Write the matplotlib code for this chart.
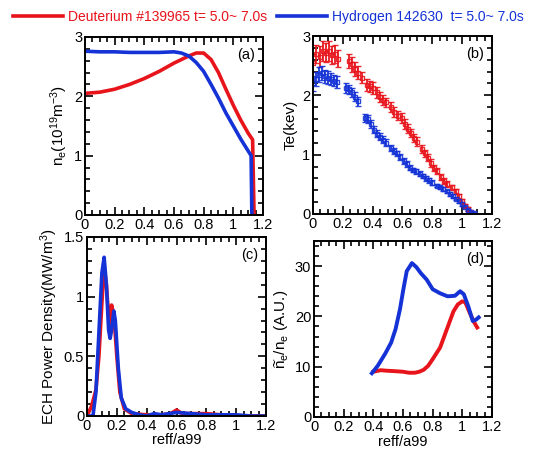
import numpy as np
import matplotlib
matplotlib.use("Agg")
import matplotlib.pyplot as plt
from matplotlib.ticker import MultipleLocator

plt.rcParams['font.family'] = ['Liberation Sans', 'DejaVu Sans']
plt.rcParams['font.size'] = 10
plt.rcParams['mathtext.fontset'] = 'custom'
plt.rcParams['mathtext.rm'] = 'Liberation Sans'
plt.rcParams['mathtext.it'] = 'Liberation Sans'

RED = '#e8141b'
BLUE = '#1432d6'

''' (a) density profiles
'''
ne_d_x = [0.0, 0.1, 0.2, 0.3, 0.4, 0.5, 0.6, 0.7, 0.75, 0.8, 0.85, 0.9, 0.95, 1.0, 1.05, 1.1, 1.13, 1.14]
ne_d_y = [2.05, 2.07, 2.12, 2.2, 2.3, 2.42, 2.56, 2.68, 2.73, 2.73, 2.62, 2.4, 2.12, 1.85, 1.6, 1.38, 1.27, 0.0]
ne_h_x = [0.0, 0.1, 0.2, 0.3, 0.4, 0.5, 0.6, 0.65, 0.7, 0.75, 0.8, 0.85, 0.9, 0.95, 1.0, 1.05, 1.1, 1.12, 1.125]
ne_h_y = [2.76, 2.75, 2.75, 2.74, 2.74, 2.74, 2.75, 2.73, 2.68, 2.57, 2.42, 2.2, 1.97, 1.72, 1.5, 1.28, 1.08, 1.0, 0.0]

''' (b) Te with error bars
'''
te_d_x = [0.0, 0.02, 0.05, 0.07, 0.09, 0.11, 0.13, 0.15, 0.17, 0.24, 0.26, 0.28, 0.30, 0.33, 0.36, 0.38,
          0.40, 0.43, 0.45, 0.47, 0.49, 0.52, 0.54, 0.57, 0.60, 0.62, 0.64, 0.66, 0.68, 0.70, 0.73, 0.75,
          0.77, 0.79, 0.81, 0.83, 0.86, 0.88, 0.90, 0.93, 0.96, 0.98, 1.00, 1.02, 1.04, 1.06]
te_d_y = [2.55, 2.70, 2.65, 2.75, 2.72, 2.75, 2.68, 2.70, 2.62, 2.58, 2.52, 2.45, 2.38, 2.30, 2.18, 2.15,
          2.12, 2.05, 1.97, 1.92, 1.88, 1.80, 1.72, 1.66, 1.62, 1.52, 1.44, 1.36, 1.28, 1.22, 1.10, 1.02,
          0.95, 0.86, 0.78, 0.72, 0.62, 0.55, 0.50, 0.45, 0.38, 0.30, 0.22, 0.14, 0.08, 0.03]
te_d_err = [0.15, 0.15, 0.18, 0.17, 0.16, 0.17, 0.15, 0.15, 0.14, 0.12, 0.12, 0.12, 0.11, 0.10, 0.10, 0.10,
            0.10, 0.09, 0.09, 0.08, 0.08, 0.08, 0.08, 0.08, 0.08, 0.08, 0.07, 0.07, 0.07, 0.07, 0.07, 0.06,
            0.06, 0.06, 0.05, 0.05, 0.05, 0.05, 0.05, 0.04, 0.04, 0.04, 0.04, 0.03, 0.03, 0.02]
te_h_x = [0.0, 0.02, 0.04, 0.06, 0.08, 0.10, 0.12, 0.14, 0.16, 0.22, 0.24, 0.26, 0.28, 0.30, 0.35, 0.37,
          0.39, 0.41, 0.43, 0.45, 0.47, 0.49, 0.52, 0.54, 0.56, 0.58, 0.61, 0.63, 0.65, 0.67, 0.69, 0.72,
          0.74, 0.76, 0.78, 0.80, 0.83, 0.85, 0.87, 0.90, 0.92, 0.94, 0.96, 0.98, 1.00, 1.02, 1.04, 1.06, 1.08]
te_h_y = [2.20, 2.28, 2.35, 2.38, 2.32, 2.30, 2.28, 2.25, 2.22, 2.12, 2.10, 2.05, 1.98, 1.90, 1.62, 1.60,
          1.52, 1.42, 1.35, 1.30, 1.25, 1.20, 1.12, 1.06, 1.02, 0.96, 0.90, 0.85, 0.78, 0.74, 0.72, 0.68,
          0.64, 0.60, 0.57, 0.53, 0.48, 0.45, 0.42, 0.38, 0.34, 0.30, 0.26, 0.22, 0.17, 0.12, 0.07, 0.03, 0.01]
te_h_err = [0.12, 0.12, 0.12, 0.12, 0.11, 0.11, 0.10, 0.10, 0.10, 0.08, 0.08, 0.08, 0.08, 0.08, 0.07, 0.07,
            0.07, 0.06, 0.06, 0.06, 0.06, 0.06, 0.05, 0.05, 0.05, 0.05, 0.05, 0.05, 0.04, 0.04, 0.04, 0.04,
            0.04, 0.04, 0.04, 0.04, 0.03, 0.03, 0.03, 0.03, 0.03, 0.03, 0.03, 0.03, 0.03, 0.02, 0.02, 0.02, 0.02]

''' (c) ECH power density
'''
ech_d_x = [0.0, 0.03, 0.06, 0.08, 0.10, 0.115, 0.13, 0.15, 0.165, 0.18, 0.20, 0.22, 0.25, 0.30, 0.40, 0.50,
           0.56, 0.60, 0.64, 0.70, 0.80, 0.90, 1.0, 1.1, 1.2]
ech_d_y = [0.0, 0.08, 0.22, 0.5, 0.95, 1.25, 1.1, 0.75, 0.93, 0.85, 0.5, 0.2, 0.06, 0.02, 0.01, 0.01,
           0.02, 0.05, 0.02, 0.02, 0.02, 0.01, 0.0, 0.0, 0.0]
ech_h_x = [0.0, 0.04, 0.06, 0.08, 0.10, 0.115, 0.13, 0.145, 0.155, 0.165, 0.18, 0.19, 0.21, 0.23, 0.26, 0.30,
           0.35, 0.40, 0.45, 0.50, 0.60, 0.70, 0.80, 0.90, 1.0, 1.1, 1.2]
ech_h_y = [0.0, 0.0, 0.2, 0.7, 1.2, 1.33, 1.1, 0.72, 0.65, 0.72, 0.88, 0.8, 0.4, 0.15, 0.06, 0.03,
           0.01, 0.0, 0.02, 0.01, 0.03, 0.02, 0.01, 0.01, 0.01, 0.0, 0.0]

''' (d) density fluctuation
'''
fl_d_x = [0.40, 0.45, 0.49, 0.55, 0.60, 0.64, 0.68, 0.71, 0.74, 0.77, 0.80, 0.85, 0.90, 0.94, 0.97, 1.0, 1.02, 1.05, 1.08, 1.10]
fl_d_y = [9.0, 9.3, 9.2, 9.1, 9.0, 8.8, 8.8, 9.0, 9.4, 10.2, 11.5, 13.8, 17.8, 21.0, 22.4, 23.0, 22.8, 20.7, 18.8, 17.8]
fl_h_x = [0.39, 0.43, 0.48, 0.52, 0.55, 0.58, 0.60, 0.625, 0.66, 0.69, 0.72, 0.76, 0.80, 0.85, 0.9, 0.95,
          0.985, 1.01, 1.04, 1.07, 1.09, 1.11]
fl_h_y = [8.7, 10.2, 12.6, 14.8, 17.5, 21.5, 25.0, 29.0, 30.6, 29.8, 28.6, 27.3, 25.4, 24.6, 24.0, 24.1,
          25.0, 24.4, 22.0, 19.1, 19.3, 19.8]

xticks = [0, 0.2, 0.4, 0.6, 0.8, 1.0, 1.2]
xticklabels = ['0', '0.2', '0.4', '0.6', '0.8', '1', '1.2']

fig = plt.figure(figsize=(5.43, 4.49), dpi=100)
ax_a = fig.add_axes([0.1565, 0.5212, 0.3278, 0.3964])
ax_b = fig.add_axes([0.5764, 0.5234, 0.3297, 0.3964])
ax_c = fig.add_axes([0.1602, 0.0735, 0.3297, 0.3987])
ax_d = fig.add_axes([0.5783, 0.0713, 0.3278, 0.3920])

ax_a.plot(ne_d_x, ne_d_y, color=RED, lw=2.6)
ax_a.plot(ne_h_x, ne_h_y, color=BLUE, lw=2.6)

ax_b.errorbar(te_d_x, te_d_y, yerr=te_d_err, fmt='s', ms=3.5, mfc='none', mec=RED, mew=1.0,
              ecolor=RED, elinewidth=1.4, capsize=2.5, capthick=1.4, alpha=0.9)
ax_b.errorbar(te_h_x, te_h_y, yerr=te_h_err, fmt='s', ms=3.5, mfc='none', mec=BLUE, mew=1.0,
              ecolor=BLUE, elinewidth=1.4, capsize=2.5, capthick=1.4, alpha=0.9)

ax_c.plot(ech_d_x, ech_d_y, color=RED, lw=2.6)
ax_c.plot(ech_h_x, ech_h_y, color=BLUE, lw=2.6)

ax_d.plot(fl_d_x, fl_d_y, color=RED, lw=2.8)
ax_d.plot(fl_h_x, fl_h_y, color=BLUE, lw=2.8)

settings = [
    (ax_a, [0, 1, 2, 3], ['0', '1', '2', '3'], 0.2, '(a)', r'n$_e$(10$^{19}$m$^{-3}$)'),
    (ax_b, [0, 1, 2, 3], ['0', '1', '2', '3'], 0.2, '(b)', 'Te(kev)'),
    (ax_c, [0, 0.5, 1, 1.5], ['0', '0.5', '1', '1.5'], 0.1, '(c)', r'ECH Power Density(MW/m$^3$)'),
    (ax_d, [0, 10, 20, 30], ['0', '10', '20', '30'], 2, '(d)', r'$\widetilde{\mathrm{n}}_e$/n$_e$ (A.U.)'),
]
ylims = {ax_a: 3, ax_b: 3, ax_c: 1.5, ax_d: 35}
for ax, yt, ytl, ymin, tag, ylab in settings:
    ax.set_xticks(xticks, labels=xticklabels)
    ax.set_yticks(yt, labels=ytl)
    ax.set_xlim(0, 1.2)
    ax.set_ylim(0, ylims[ax])
    ax.xaxis.set_minor_locator(MultipleLocator(0.05))
    ax.yaxis.set_minor_locator(MultipleLocator(ymin))
    ax.tick_params(which='both', direction='in', top=True, right=True, width=1.2, labelsize=10.5, pad=2)
    ax.tick_params(which='major', length=6)
    ax.tick_params(which='minor', length=3.5)
    for s in ax.spines.values():
        s.set_linewidth(1.4)
    ax.text(0.955, 0.9, tag, transform=ax.transAxes, ha='right', va='center', fontsize=10.5)
    ax.set_ylabel(ylab, fontsize=11, labelpad=3)

ax_c.set_xlabel('reff/a99', fontsize=10.5, labelpad=0)
ax_d.set_xlabel('reff/a99', fontsize=10.5, labelpad=1)

h1, = ax_a.plot([], [], color=RED, lw=2.6, label='Deuterium #139965 t= 5.0~ 7.0s')
h2, = ax_a.plot([], [], color=BLUE, lw=2.6, label='Hydrogen 142630  t= 5.0~ 7.0s')
fig.legend(handles=[h1, h2], loc='center left', bbox_to_anchor=(0.024, 0.962), ncol=2,
           frameon=False, handlelength=3.6, handletextpad=0.35, columnspacing=0.7,
           labelcolor='linecolor', fontsize=10, borderaxespad=0, borderpad=0)

fig.savefig('out.png', dpi=100)
